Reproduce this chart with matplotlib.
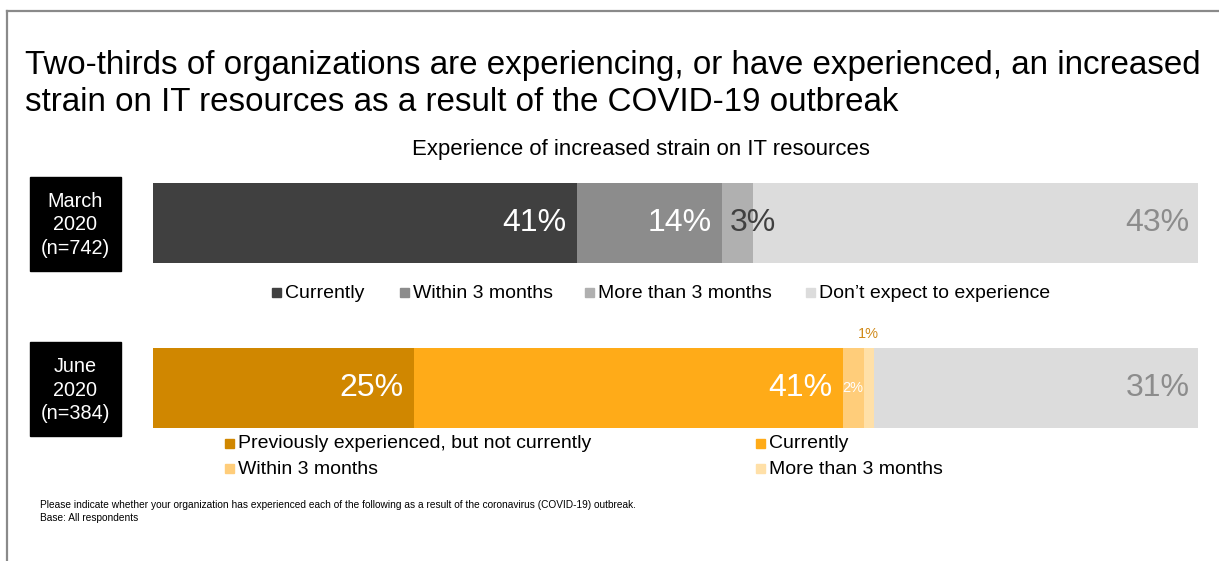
import matplotlib.pyplot as plt
from matplotlib.patches import Rectangle
from matplotlib.lines import Line2D

plt.rcParams['font.family'] = ['Liberation Sans', 'DejaVu Sans']

# March 2020 wave
march_labels = ['Currently', 'Within 3 months', 'More than 3 months', "Don\u2019t expect to experience"]
march_values = [41, 14, 3, 43]
march_colors = ['#404040', '#8c8c8c', '#b0b0b0', '#dcdcdc']

# June 2020 wave
june_labels = ['Previously experienced, but not currently', 'Currently', 'Within 3 months',
               'More than 3 months', "Don\u2019t expect to experience"]
june_values = [25, 41, 2, 1, 31]
june_colors = ['#d08700', '#ffab18', '#ffcd7a', '#ffe0a8', '#dcdcdc']

fig = plt.figure(figsize=(12.19, 5.61), dpi=100)

# frame lines of the slide
fig.add_artist(Line2D([7/1219, 7/1219], [0, 1 - 11/561], transform=fig.transFigure, color='#8a8a8a', lw=1.6))
fig.add_artist(Line2D([7/1219, 1], [1 - 11/561, 1 - 11/561], transform=fig.transFigure, color='#8a8a8a', lw=1.6))

fig.text(25/1219, 1 - 84/561, 'Two-thirds of organizations are experiencing, or have experienced, an increased\n'
         'strain on IT resources as a result of the COVID-19 outbreak',
         fontsize=23.9, va='center', ha='left', linespacing=1.25)
fig.text(641/1219, 1 - 150/561, 'Experience of increased strain on IT resources', fontsize=15.9,
         ha='center', va='center')


def draw_bar(ax, values, colors):
    left = 0
    for v, c in zip(values, colors):
        ax.barh(0, v, left=left, color=c, height=1, edgecolor='none')
        left += v
    ax.set_xlim(0, sum(values))
    ax.set_ylim(-0.5, 0.5)
    ax.axis('off')


ax1 = fig.add_axes([153/1219, 1 - 263/561, 1045/1219, 80/561])
draw_bar(ax1, march_values, march_colors)
ax2 = fig.add_axes([153/1219, 1 - 428/561, 1045/1219, 80/561])
draw_bar(ax2, june_values, june_colors)

big = 23
# March labels
cum = 0
ends = []
for v in march_values:
    cum += v
    ends.append(cum)
ax1.text(ends[0] - 1, 0, '41%', color='white', fontsize=big, ha='right', va='center')
ax1.text(ends[1] - 1, 0, '14%', color='white', fontsize=big, ha='right', va='center')
ax1.text(ends[2], 0, '3%', color='#404040', fontsize=big, ha='center', va='center')
ax1.text(ends[3] - 0.8, 0, '43%', color='#8c8c8c', fontsize=big, ha='right', va='center')

# June labels
cum = 0
ends = []
for v in june_values:
    cum += v
    ends.append(cum)
ax2.text(ends[0] - 1, 0, '25%', color='white', fontsize=big, ha='right', va='center')
ax2.text(ends[1] - 1, 0, '41%', color='white', fontsize=big, ha='right', va='center')
ax2.text(ends[2] - 1, 0, '2%', color='white', fontsize=10.5, ha='center', va='center')
ax2.text(ends[3] - 0.5, 0.68, '1%', color='#d08a1a', fontsize=10.5, ha='center', va='center')
ax2.text(ends[4] - 0.8, 0, '31%', color='#8c8c8c', fontsize=big, ha='right', va='center')

# period boxes
for y0, txt in [(177, 'March\n2020\n(n=742)'), (342, 'June\n2020\n(n=384)')]:
    fig.add_artist(Rectangle((30/1219, 1 - (y0 + 94)/561), 91/1219, 94/561,
                             transform=fig.transFigure, color='black'))
    fig.text(75.5/1219, 1 - (y0 + 48)/561, txt, color='white', fontsize=14.3,
             ha='center', va='center', linespacing=1.3)

# legends
sq = 9
march_x = [272, 400, 585, 806]
for lab, col, x in zip(march_labels, march_colors, march_x):
    fig.add_artist(Rectangle((x/1219, 1 - 297/561), sq/1219, sq/561, transform=fig.transFigure, color=col))
    fig.text((x + 13)/1219, 1 - 293/561, lab, fontsize=14, ha='left', va='center')

june_pos = [(225, 443), (756, 443), (225, 468), (756, 468)]
for lab, col, (x, y) in zip(june_labels[:4], june_colors[:4], june_pos):
    fig.add_artist(Rectangle((x/1219, 1 - (y + 5)/561), sq/1219, sq/561, transform=fig.transFigure, color=col))
    fig.text((x + 13)/1219, 1 - (y + 1)/561, lab, fontsize=14, ha='left', va='center')

fig.text(40/1219, 1 - 505/561, 'Please indicate whether your organization has experienced each of the following '
         'as a result of the coronavirus (COVID-19) outbreak.', fontsize=7.3, ha='left', va='center')
fig.text(40/1219, 1 - 518/561, 'Base: All respondents', fontsize=7.3, ha='left', va='center')

fig.savefig('out.png', dpi=100, facecolor='white')
